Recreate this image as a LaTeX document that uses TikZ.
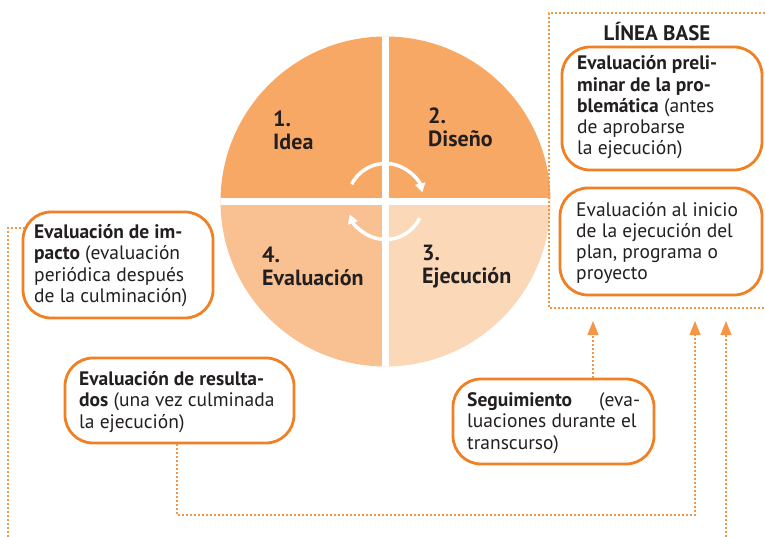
\documentclass[tikz,border=0pt]{standalone}
\usepackage{fontspec}
\setmainfont{PT Sans}
\usetikzlibrary{arrows.meta}
\definecolor{boxor}{RGB}{240,128,36}
\definecolor{dotor}{RGB}{244,150,70}
\definecolor{qa}{RGB}{247,168,100}
\definecolor{qb}{RGB}{249,193,146}
\definecolor{qc}{RGB}{250,216,184}
\definecolor{txt}{RGB}{35,31,32}
\begin{document}
\begin{tikzpicture}[x=1pt,y=-1pt,
  evbox/.style={draw=boxor, line width=2.8pt, rounded corners=28pt, fill=white, inner sep=0pt},
  boxtext/.style={anchor=west, align=left, text=txt, inner sep=0pt, font=\fontsize{19.5}{21.3}\selectfont},
  conn/.style={draw=dotor, line width=1.1pt, dash pattern=on 2pt off 2pt},
  tipend/.style={-{Triangle[width=11pt,length=14pt]}},
  qlabel/.style={anchor=west, align=left, text=txt, font=\fontsize{22}{23}\selectfont\bfseries, inner sep=0pt},
  cyc/.style={white, line width=3.5pt, -{Triangle[width=10pt,length=9pt]}}]
\useasboundingbox (0,0) rectangle (765,537);

% circle
\coordinate (C) at (385.5,201.5);
\begin{scope}
  \clip (C) circle[radius=165];
  \fill[qa] (C) rectangle ++(-170,-170);
  \fill[qa] (C) rectangle ++(170,-170);
  \fill[qb] (C) rectangle ++(-170,170);
  \fill[qc] (C) rectangle ++(170,170);
  \draw[white, line width=7pt] (C) ++(0,-170) -- ++(0,340);
  \draw[white, line width=7pt] (C) ++(-170,0) -- ++(340,0);
\end{scope}
\draw[cyc] (C) ++(-153:38) arc[start angle=-153, end angle=-14, radius=38];
\draw[cyc] (C) ++(26:38) arc[start angle=26, end angle=160, radius=38];

\node[qlabel] (q1) at (273,130.5) {1.\\Idea};
\node[qlabel] (q2) at (428,127.5) {2.\\Diseño};
\node[qlabel] (q4) at (262,266.5) {4.\\Evaluación};
\node[qlabel] (q3) at (422,266.5) {3.\\Ejecución};

% linea base frame
\coordinate (f1) at (765,13);
\coordinate (f2) at (549,13);
\coordinate (f3) at (549,308);
\coordinate (f4) at (765,308);
\draw[conn] (f1) -- (f2) -- (f3) -- (f4);
\node[text=txt, font=\fontsize{21}{22}\selectfont\bfseries] (lb) at (657,32) {LÍNEA BASE};

% coordinates for connectors
\coordinate (t1) at (593,321);
\coordinate (t2) at (695,321);
\coordinate (t3) at (726,321);
\coordinate (r1) at (177,515);
\coordinate (b3) at (726,537);
\coordinate (i1) at (8,228);
\coordinate (i0) at (8,537);

% connector drawn under the box
\draw[conn] (i0) -- (i1) -- (30,228);

% boxes
\node[evbox, minimum width=200pt, minimum height=123pt] (pre) at (662,108.5) {};
\node[evbox, minimum width=202pt, minimum height=107pt] (ini) at (661,241.5) {};
\node[evbox, minimum width=190pt, minimum height=106pt] (imp) at (118,265) {};
\node[evbox, minimum width=229pt, minimum height=85pt] (res) at (179.5,400.5) {};
\node[evbox, minimum width=201pt, minimum height=85pt] (seg) at (553.5,421.5) {};

% box texts
\node[boxtext] (preT) at (577,107.5)
  {\textbf{Evaluación preli-}\\\textbf{minar de la pro-}\\\textbf{blemática} (antes\\de aprobarse\\la ejecución)};
\node[boxtext] (iniT) at (576,243)
  {Evaluación al inicio\\de la ejecución del\\plan, programa o\\proyecto};
\node[boxtext] (impT) at (34,265.5)
  {\textbf{Evaluación de im-}\\\textbf{pacto} (evaluación\\periódica después\\de la culminación)};
\node[boxtext] (resT) at (79,402)
  {\textbf{Evaluación de resulta-}\\\textbf{dos} (una vez culminada\\la ejecución)};
\node[boxtext] (segT) at (467,423)
  {\textbf{Seguimiento}\hspace{27pt}(eva-\\luaciones durante el\\transcurso)};

% connectors
\draw[conn, tipend] (seg.north -| t1) -- (t1);
\draw[conn, tipend] (res.south -| r1) -- (r1) -- (r1 -| t2) -- (t2);
\draw[conn, tipend] (b3) -- (t3);
\end{tikzpicture}
\end{document}
